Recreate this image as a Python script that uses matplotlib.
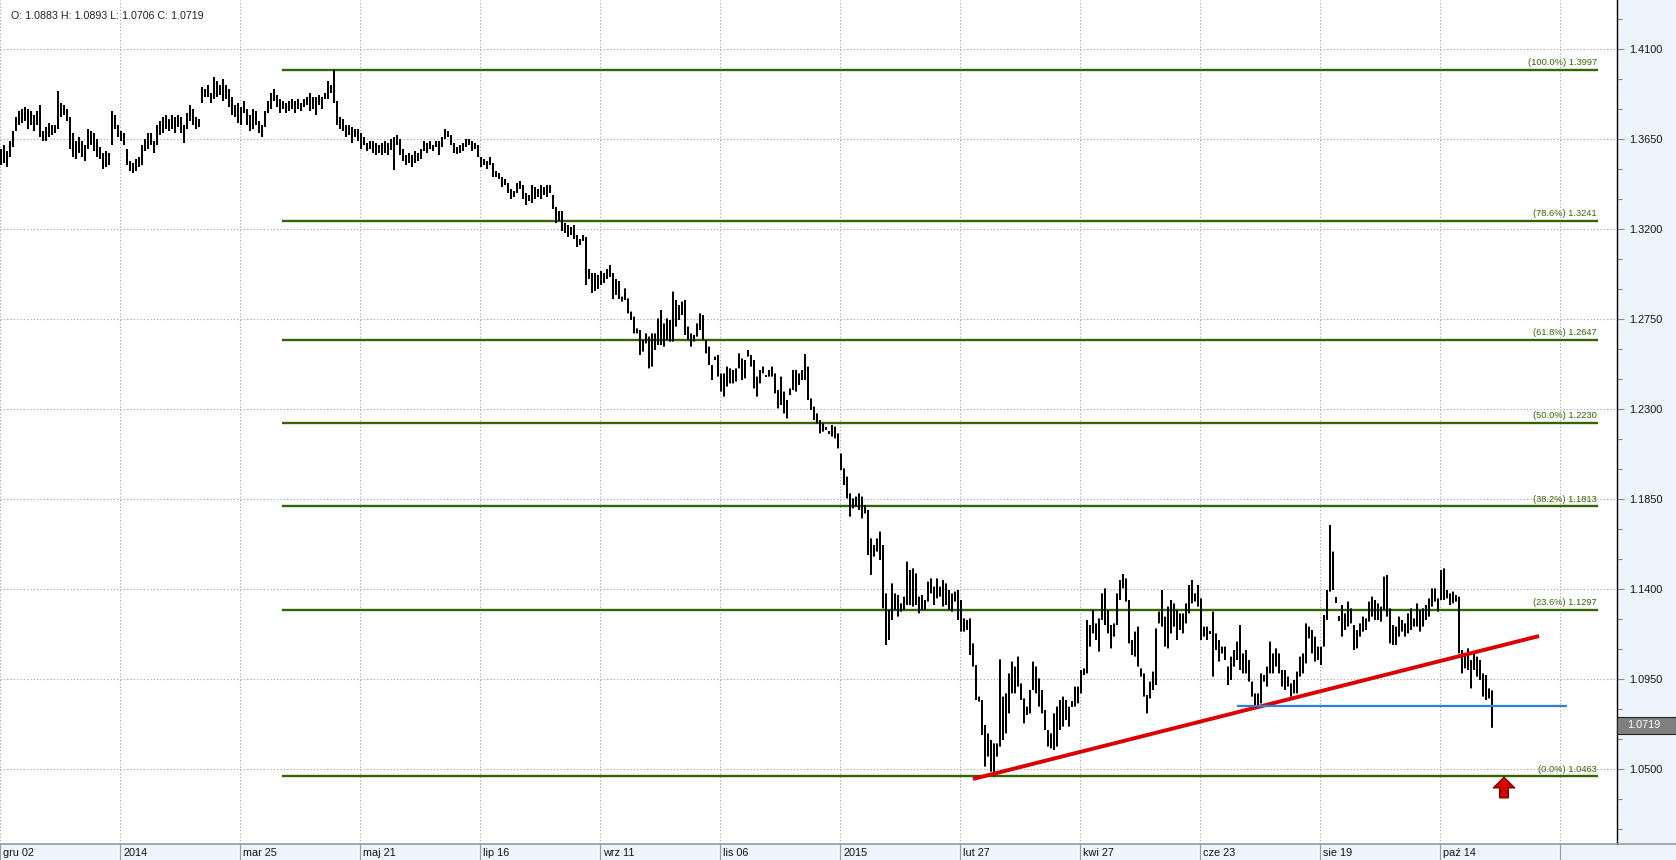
import matplotlib
matplotlib.use("Agg")
import matplotlib.pyplot as plt
import matplotlib.transforms as mtransforms
from matplotlib.patches import Rectangle, Polygon
from matplotlib.lines import Line2D
import numpy as np

plt.rcParams['font.family'] = ['Liberation Sans', 'DejaVu Sans']

W, H, DPI = 1676, 860, 100

# ---------------- data (prices in pips, i.e. price * 10000) ----------------
bar_low_pips = [
    13520,13530,13510,13560,13610,13690,13720,13730,13740,13700,
    13720,13690,13720,13660,13640,13640,13660,13670,13680,13700,
    13760,13770,13740,13600,13560,13550,13580,13560,13540,13600,
    13620,13590,13560,13550,13500,13510,13520,13620,13700,13660,
    13640,13620,13520,13490,13480,13490,13510,13520,13590,13600,
    13620,13580,13620,13670,13680,13700,13690,13700,13680,13710,
    13680,13630,13700,13740,13720,13700,13710,13830,13860,13860,
    13830,13850,13860,13870,13840,13850,13810,13770,13760,13730,
    13720,13780,13720,13690,13700,13720,13680,13660,13710,13780,
    13800,13840,13810,13780,13800,13780,13790,13800,13780,13800,
    13790,13810,13820,13790,13800,13770,13820,13800,13850,13850,
    13880,13830,13720,13700,13690,13660,13670,13630,13660,13640,
    13600,13620,13590,13600,13580,13570,13580,13570,13580,13570,
    13595,13495,13620,13570,13540,13520,13530,13510,13530,13540,
    13550,13590,13580,13600,13590,13610,13570,13610,13650,13660,
    13620,13580,13575,13580,13590,13610,13620,13590,13600,13560,
    13510,13520,13500,13520,13460,13460,13450,13410,13420,13380,
    13350,13360,13380,13400,13350,13320,13340,13330,13350,13360,
    13350,13370,13360,13380,13300,13230,13240,13190,13180,13160,
    13170,13150,13110,13120,13140,12920,12950,12880,12890,12900,
    12920,12930,12950,12960,12850,12870,12850,12837,12845,12778,
    12745,12678,12678,12570,12587,12628,12503,12512,12595,12620,
    12620,12612,12645,12637,12637,12712,12745,12770,12670,12645,
    12612,12637,12662,12695,12645,12578,12520,12445,12545,12462,
    12387,12362,12412,12428,12428,12437,12503,12445,12453,12562,
    12512,12403,12362,12428,12478,12460,12462,12462,12378,12303,
    12320,12278,12253,12370,12395,12387,12420,12445,12445,12345,
    12295,12245,12228,12178,12187,12195,12175,12162,12153,12103,
    11995,11920,11853,11762,11803,11812,11795,11753,11778,11570,
    11470,11562,11587,11545,11303,11120,11145,11245,11295,11262,
    11287,11295,11320,11320,11312,11320,11278,11295,11295,11337,
    11378,11320,11353,11362,11312,11320,11295,11287,11337,11245,
    11187,11187,11195,11070,11012,10845,10837,10670,10512,10562,
    10487,10463,10562,10612,10645,10678,10778,10878,10878,10912,
    10845,10728,10770,10778,10895,10878,10812,10778,10695,10612,
    10603,10595,10612,10695,10712,10745,10712,10810,10812,10828,
    10878,10970,10978,11112,11178,11145,11087,11245,11220,11178,
    11103,11162,11220,11345,11403,11337,11128,11070,11062,11012,
    10962,10862,10778,10853,10895,10920,11228,11212,11112,11103,
    11178,11212,11145,11195,11178,11228,11278,11328,11337,11312,
    11145,11162,11145,11175,10962,11095,11037,11078,11045,10920,
    10945,11012,11045,10995,10978,10978,10937,10862,10812,10820,
    10828,10937,10912,10978,10978,11012,10978,10912,10895,10912,
    10862,10878,10878,10962,10978,11028,11153,11078,11037,11045,
    11020,11112,11245,11387,11395,11330,11240,11162,11195,11212,
    11228,11095,11103,11162,11187,11195,11237,11262,11245,11245,
    11237,11295,11262,11128,11120,11120,11162,11187,11162,11178,
    11195,11212,11212,11187,11212,11245,11262,11312,11337,11287,
    11345,11345,11353,11320,11328,11337,11078,10978,11003,10995,
    10903,10995,10962,10945,10862,10845,10853,10706,
]
bar_high_pips = [
    13600,13620,13590,13640,13690,13760,13790,13800,13810,13800,
    13790,13770,13790,13820,13690,13710,13730,13720,13720,13890,
    13830,13820,13800,13760,13680,13640,13660,13640,13620,13700,
    13690,13680,13650,13610,13580,13590,13580,13790,13770,13720,
    13690,13680,13600,13540,13530,13550,13560,13620,13650,13680,
    13680,13640,13720,13740,13760,13770,13750,13770,13760,13770,
    13760,13720,13780,13820,13800,13760,13750,13910,13900,13920,
    13880,13960,13940,13920,13950,13920,13900,13860,13820,13830,
    13810,13840,13800,13770,13800,13790,13740,13720,13790,13840,
    13880,13900,13870,13850,13840,13830,13840,13850,13840,13850,
    13830,13850,13860,13880,13860,13860,13870,13860,13880,13940,
    13920,13997,13840,13760,13750,13720,13720,13710,13700,13700,
    13680,13660,13630,13640,13640,13630,13620,13630,13640,13630,
    13650,13660,13670,13650,13600,13570,13580,13570,13590,13580,
    13600,13640,13630,13640,13620,13640,13640,13660,13700,13690,
    13670,13630,13610,13620,13630,13650,13650,13640,13630,13620,
    13560,13550,13540,13560,13530,13490,13480,13460,13450,13430,
    13400,13390,13430,13440,13420,13380,13370,13420,13410,13400,
    13420,13410,13420,13420,13370,13310,13290,13290,13230,13220,
    13210,13220,13170,13150,13170,13160,13000,12980,12980,12970,
    12990,12980,13000,13020,12980,12950,12940,12862,12903,12853,
    12787,12762,12703,12695,12645,12678,12662,12678,12678,12753,
    12795,12728,12753,12745,12887,12845,12820,12837,12845,12712,
    12678,12670,12728,12778,12770,12645,12612,12520,12562,12570,
    12478,12478,12512,12503,12495,12503,12578,12553,12545,12595,
    12570,12545,12462,12495,12512,12470,12495,12512,12478,12395,
    12462,12387,12345,12403,12495,12495,12478,12495,12575,12512,
    12353,12312,12278,12245,12228,12210,12190,12220,12212,12178,
    12078,12003,11962,11878,11853,11862,11878,11862,11820,11795,
    11653,11620,11653,11687,11620,11378,11295,11428,11378,11370,
    11328,11362,11537,11495,11503,11478,11362,11370,11345,11437,
    11453,11412,11453,11412,11445,11428,11395,11378,11387,11395,
    11345,11253,11245,11253,11128,11020,10862,10845,10720,10678,
    10645,10628,10628,11048,10862,10878,10978,11037,11012,11062,
    10928,10853,10812,10895,11037,11012,10953,10895,10795,10695,
    10678,10778,10812,10845,10862,10845,10812,10840,10912,10912,
    10995,11003,11245,11220,11295,11228,11253,11378,11403,11295,
    11220,11228,11378,11445,11475,11453,11345,11145,11187,11212,
    11003,10978,10870,10937,10987,11203,11287,11395,11262,11312,
    11345,11328,11295,11278,11278,11328,11420,11445,11378,11420,
    11353,11212,11212,11190,11287,11178,11145,11112,11112,11012,
    11062,11095,11137,11220,11078,11095,11045,10937,10878,10878,
    10978,10970,11012,11137,11078,11103,11078,10995,10995,10962,
    10928,10945,10987,11062,11078,11228,11212,11195,11162,11112,
    11112,11270,11395,11720,11587,11360,11265,11320,11278,11337,
    11303,11220,11195,11228,11262,11253,11337,11362,11345,11328,
    11312,11462,11470,11303,11220,11212,11262,11245,11228,11278,
    11303,11253,11328,11295,11303,11320,11353,11403,11403,11353,
    11495,11503,11395,11378,11387,11370,11362,11095,11078,11103,
    11045,11078,11062,11045,10978,10970,10903,10893,
]

fib_pcts = ["100.0", "78.6", "61.8", "50.0", "38.2", "23.6", "0.0"]
fib_levels = [1.3997, 1.3241, 1.2647, 1.2230, 1.1813, 1.1297, 1.0463]
price_ticks = [1.4100, 1.3650, 1.3200, 1.2750, 1.2300, 1.1850, 1.1400, 1.0950, 1.0500]
minor_ticks = [1.425, 1.395, 1.380, 1.350, 1.335, 1.305, 1.290, 1.260, 1.245,
               1.215, 1.200, 1.170, 1.155, 1.125, 1.110, 1.080, 1.065, 1.035, 1.020]
date_labels = ["gru 02", "2014", "mar 25", "maj 21", "lip 16", "wrz 11", "lis 06",
               "2015", "lut 27", "kwi 27", "cze 23", "sie 19", "paź 14", ""]
last_open, last_high, last_low, last_close = 1.0883, 1.0893, 1.0706, 1.0719
trend_x = [324.0, 512.7]
trend_y = [1.0450, 1.1165]
support_x = [412.0, 522.0]
support_y = 1.0815

lows = np.array(bar_low_pips) / 10000.0
highs = np.array(bar_high_pips) / 10000.0
idx = np.arange(len(lows))

# ---------------- layout ----------------
AX_RIGHT = 1617
AX_BOTTOM = 16
fig = plt.figure(figsize=(W / DPI, H / DPI), dpi=DPI)
fig.patch.set_facecolor('white')
ax = fig.add_axes([0, AX_BOTTOM / H, AX_RIGHT / W, (H - AX_BOTTOM) / H])
ax.set_xlim(-1 / 3, (AX_RIGHT - 1) / 3)
ax.set_ylim(1.0125, 1.4345)

PANEL = '#eef4fc'
GRID = '#a0a0a0'
GREEN = '#336600'

# right panel + bottom band backgrounds
fig.patches.append(Rectangle((AX_RIGHT / W, 0), 1 - AX_RIGHT / W, 1,
                             transform=fig.transFigure, facecolor=PANEL,
                             edgecolor='none', zorder=-5))
fig.patches.append(Rectangle((0, 0), 1, AX_BOTTOM / H, transform=fig.transFigure,
                             facecolor=PANEL, edgecolor='none', zorder=-5))
fig.lines.append(Line2D([0, 1], [AX_BOTTOM / H, AX_BOTTOM / H], transform=fig.transFigure,
                        color='#9a9a9a', lw=1.2, zorder=3))

# grid
for p in price_ticks:
    ax.axhline(p, color=GRID, lw=0.8, ls=(0, (1, 2)), zorder=0)
for k in range(len(date_labels)):
    ax.axvline(40 * k - 1 / 3, color=GRID, lw=0.8, ls=(0, (1, 2)), zorder=0)

# bottom date labels and separators
for k, lab in enumerate(date_labels):
    xpx = 120 * k
    fig.lines.append(Line2D([xpx / W, xpx / W], [0, AX_BOTTOM / H], transform=fig.transFigure,
                            color='#9a9a9a', lw=0.8))
    if lab:
        fig.text((xpx + 3) / W, 3.5 / H, lab, fontsize=7.8, ha='left', va='baseline',
                 color='#111111')

# fibonacci levels
for pct, lvl in zip(fib_pcts, fib_levels):
    ax.hlines(lvl, 93.67, 532.33, color=GREEN, lw=1.7, zorder=2)
    ax.annotate(f"({pct}%) {lvl:.4f}", xy=(532.0, lvl), xytext=(0, 2.5),
                textcoords='offset pixels', ha='right', va='bottom',
                fontsize=6.7, color=GREEN, zorder=4)

# OHLC bars (high-low), 2 px wide with 1 px gaps
bars = ax.vlines(idx, lows, highs, color='black', lw=1.44, zorder=3, antialiased=True)
bars.set_snap(False)

# trend line and support
ax.plot(trend_x, trend_y, color='#dd0000', lw=2.8, solid_capstyle='butt', zorder=5)
ax.hlines(support_y, support_x[0], support_x[1], color='#2f80dc', lw=1.6, zorder=5)

# red up arrow
cx, tip, head_base, bottom = 501.0, 1.0460, 1.0405, 1.0355
hw, sw = 3.67, 1.5
arrow = Polygon([(cx, tip), (cx + hw, head_base), (cx + sw, head_base), (cx + sw, bottom),
                 (cx - sw, bottom), (cx - sw, head_base), (cx - hw, head_base)],
                closed=True, facecolor='#d40000', edgecolor='#5a0000', lw=0.7, zorder=6)
ax.add_patch(arrow)

# right axis
ax.yaxis.tick_right()
ax.set_yticks(price_ticks)
ax.set_yticklabels([f"{p:.4f}" for p in price_ticks])
ax.set_yticks(minor_ticks, minor=True)
ax.tick_params(axis='y', which='major', length=5, width=0.8, color='#888888',
               labelsize=7.8, pad=3.5, labelcolor='#111111')
ax.tick_params(axis='y', which='minor', length=3.5, width=0.8, color='#888888')
ax.tick_params(axis='x', bottom=False, labelbottom=False)
for s in ['left', 'top', 'bottom']:
    ax.spines[s].set_visible(False)
ax.spines['right'].set_color('black')
ax.spines['right'].set_linewidth(1.0)

# last price box
blend = mtransforms.blended_transform_factory(fig.transFigure, ax.transData)
box_h = 17 / 2000
ax.add_patch(Rectangle((AX_RIGHT / W, last_close - box_h / 2), 1 - AX_RIGHT / W, box_h,
                       transform=blend, facecolor='#808080', edgecolor='#222222',
                       lw=0.8, clip_on=False, zorder=10))
ax.text(1627 / W, last_close, f"{last_close:.4f}", transform=blend, fontsize=7.8,
        color='white', va='center', ha='left', clip_on=False, zorder=11)

# header
fig.text(11 / W, 1 - 16 / H,
         f"O: {last_open:.4f} H: {last_high:.4f} L: {last_low:.4f} C: {last_close:.4f}",
         fontsize=7.7, va='center', ha='left', color='#222222')

fig.savefig('out.png', dpi=DPI)
